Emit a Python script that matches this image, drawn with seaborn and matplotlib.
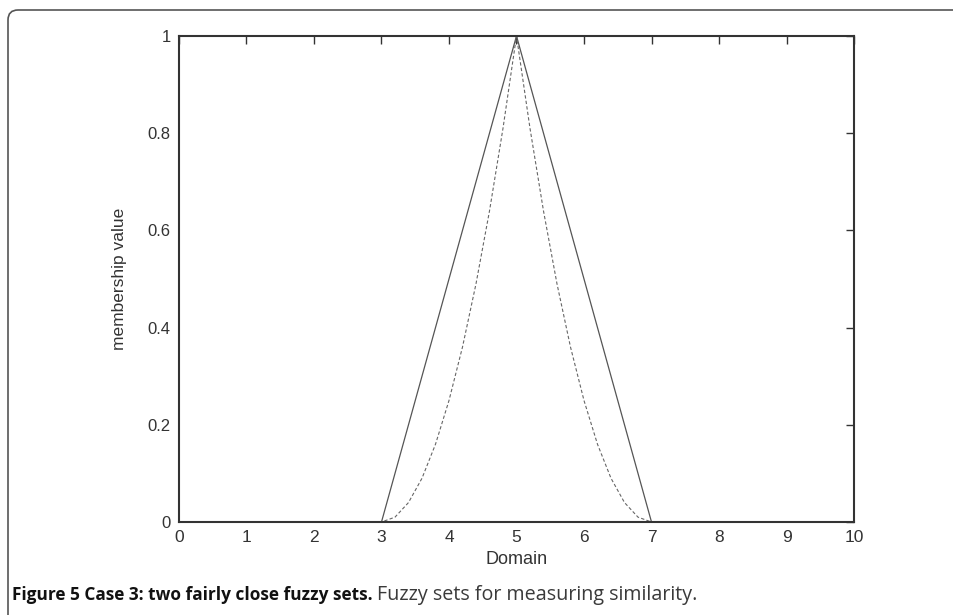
import numpy as np
import pandas as pd
import matplotlib
matplotlib.use("Agg")
import matplotlib.pyplot as plt
import seaborn as sns
from matplotlib.patches import FancyBboxPatch

# --- data ---
# solid: triangular fuzzy set (3, 5, 7)
tri_x = [0, 3, 5, 7, 10]
tri_y = [0, 0, 1, 0, 0]
# dashed: narrower, curved set (sampled every 0.2)
curve_x = [0, 3.0, 3.2, 3.4, 3.6, 3.8, 4.0, 4.2, 4.4, 4.6, 4.8, 5.0,
           5.2, 5.4, 5.6, 5.8, 6.0, 6.2, 6.4, 6.6, 6.8, 7.0, 10]
curve_y = [0, 0.0, 0.01, 0.04, 0.09, 0.16, 0.25, 0.36, 0.49, 0.64, 0.81, 1.0,
           0.81, 0.64, 0.49, 0.36, 0.25, 0.16, 0.09, 0.04, 0.01, 0.0, 0]

x_ticks = [0, 1, 2, 3, 4, 5, 6, 7, 8, 9, 10]
y_ticks = [0, 0.2, 0.4, 0.6, 0.8, 1]
y_labels = ["0", "0.2", "0.4", "0.6", "0.8", "1"]

df_tri = pd.DataFrame({"x": tri_x, "y": tri_y})
df_curve = pd.DataFrame({"x": curve_x, "y": curve_y})

sns.set_style("white")
plt.rcParams["font.family"] = ["Liberation Sans", "DejaVu Sans"]

fig = plt.figure(figsize=(9.54, 6.15), dpi=100)
ax = fig.add_axes([0.1876, 0.1512, 0.7076, 0.7903])

sns.lineplot(data=df_tri, x="x", y="y", ax=ax, color="#555555", lw=0.9)
sns.lineplot(data=df_curve, x="x", y="y", ax=ax, color="#666666", lw=0.8,
             linestyle=(0, (3, 2)))

ax.set_xlim(0, 10)
ax.set_ylim(0, 1)
ax.set_xticks(x_ticks)
ax.set_xticklabels([str(t) for t in x_ticks], fontsize=12.5)
ax.set_yticks(y_ticks)
ax.set_yticklabels(y_labels, fontsize=12)
ax.tick_params(direction="in", length=6, width=1, color="#333333",
               top=True, right=True, labelcolor="#333333", pad=6)
ax.tick_params(axis="x", pad=6)
for s in ax.spines.values():
    s.set_color("#333333")
    s.set_linewidth(1.5)
ax.set_xlabel("Domain", fontsize=13, color="#333333", labelpad=4)
ax.set_ylabel("membership value", fontsize=12.5, color="#333333", labelpad=15)

# rounded frame around the figure
frame = FancyBboxPatch((8, -40), 990, 645, boxstyle="round,pad=0,rounding_size=10",
                       transform=None, fill=False, ec="#555555", lw=1.2)
fig.patches.append(frame)

# caption
cap_font = ["Open Sans", "DejaVu Sans"]
t1 = fig.text(12 / 954, 1 - 595 / 615, "Figure 5 Case 3: two fairly close fuzzy sets.",
              fontsize=12.4, fontweight="bold", family=cap_font, va="center",
              color="#111111")
fig.canvas.draw()
bb = t1.get_window_extent()
fig.text((bb.x1 + 4) / 954, 1 - 595 / 615, "Fuzzy sets for measuring similarity.",
         fontsize=14.2, family=cap_font, va="center", color="#3a3a3a")

fig.savefig("out.png", dpi=100)
